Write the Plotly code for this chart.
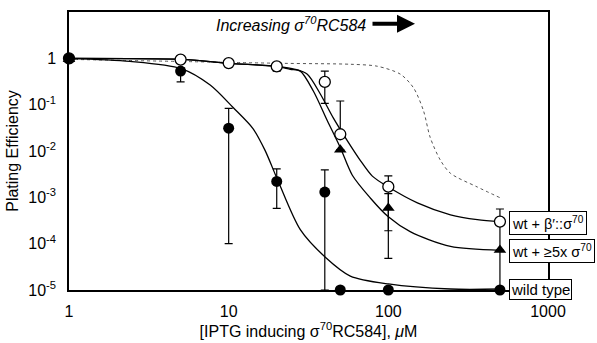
import plotly.graph_objects as go

# ---- data ----
iptg = [1, 5, 10, 20, 40, 50, 100, 500]

wt_y = [1.0, 0.53, 0.031, 0.0022, 0.0013, 1e-5, 1e-5, 1e-5]
wt_hi = [1.0, 0.62, 0.083, 0.0041, 0.0039, 1e-5, 1e-5, 7.0e-5]
wt_lo = [1.0, 0.31, 1e-4, 0.00058, 1e-5, 1e-5, 1e-5, 5.5e-6]

bs_y = [1.0, 0.94, 0.79, 0.67, 0.31, 0.023, 0.0017, 3.0e-4]
bs_hi = [1.0, 0.94, 0.79, 0.67, 0.53, 0.12, 0.0029, 5.6e-4]
bs_lo = [1.0, 0.94, 0.79, 0.53, 0.107, 0.023, 0.00019, 3.0e-4]

tr_x = [1, 50, 100, 500]
tr_y = [0.96, 0.0107, 0.00059, 7.3e-5]
tr_hi = [0.96, 0.0107, 0.0012, 3.0e-4]
tr_lo = [0.96, 0.0107, 4.8e-5, 7.3e-5]

# fitted curves
fit_bs_x = [1, 5.04, 10.1, 20.1, 26.1, 31.1, 37.5, 45.2, 55.3, 66.7, 79.4, 100, 152, 245, 361, 504]
fit_bs_y = [1.0, 0.95, 0.78, 0.67, 0.58, 0.455, 0.17, 0.052, 0.0168, 0.0063, 0.00287, 0.00167,
            7.6e-4, 4.2e-4, 3.3e-4, 3.0e-4]

fit_tr_x = [1, 5.04, 10.1, 20.1, 24.3, 28.1, 33.9, 41.5, 50.0, 59.5, 77.1, 100, 137, 245, 504]
fit_tr_y = [1.0, 0.95, 0.78, 0.67, 0.58, 0.53, 0.197, 0.045, 0.0119, 0.0030, 9.7e-4, 3.8e-4,
            1.82e-4, 8.7e-5, 7.2e-5]

fit_wt_x = [1, 2.41, 5.04, 7.66, 10.7, 14.2, 16.9, 20.4, 28.1, 40.3, 57.8, 100, 245, 504]
fit_wt_y = [1.0, 0.86, 0.6, 0.265, 0.0855, 0.0304, 0.0103, 0.00224, 2.0e-4, 5.1e-5, 2.0e-5,
            1.35e-5, 1.05e-5, 1.05e-5]

dot_x = [1, 22, 57.8, 85.3, 119, 144, 166, 183, 212, 245, 361, 504]
dot_y = [0.95, 0.78, 0.745, 0.675, 0.455, 0.229, 0.074, 0.0195, 0.0063, 0.0033, 0.00167, 9.7e-4]

y_tickvals = [1e-5, 1e-4, 1e-3, 1e-2, 1e-1, 1]
y_ticktext = ["10<sup>-5</sup>", "10<sup>-4</sup>", "10<sup>-3</sup>", "10<sup>-2</sup>",
              "10<sup>-1</sup>", "1"]
x_tickvals = [1, 10, 100, 1000]
x_ticktext = ["1", "10", "100", "1000"]

FONT = "Liberation Sans, Arial, sans-serif"
SIG = "σ"

def err(y, hi, lo):
    return dict(type="data", symmetric=False,
                array=[h - v for h, v in zip(hi, y)],
                arrayminus=[v - l for v, l in zip(y, lo)],
                color="black", thickness=1.2, width=4)

fig = go.Figure()

# curves
fig.add_trace(go.Scatter(x=dot_x, y=dot_y, mode="lines",
                         line=dict(color="#555", width=1, dash="dot", shape="spline", smoothing=0.8),
                         hoverinfo="skip"))
for cx, cy in [(fit_bs_x, fit_bs_y), (fit_tr_x, fit_tr_y), (fit_wt_x, fit_wt_y)]:
    fig.add_trace(go.Scatter(x=cx, y=cy, mode="lines",
                             line=dict(color="black", width=1.3, shape="spline", smoothing=0.8),
                             hoverinfo="skip"))

# points
fig.add_trace(go.Scatter(x=tr_x, y=tr_y, mode="markers", cliponaxis=False,
                         marker=dict(symbol="triangle-up", size=11, color="black"),
                         error_y=err(tr_y, tr_hi, tr_lo)))
fig.add_trace(go.Scatter(x=iptg, y=bs_y, mode="markers", cliponaxis=False,
                         marker=dict(symbol="circle", size=11, color="white",
                                     line=dict(color="black", width=1.3)),
                         error_y=err(bs_y, bs_hi, bs_lo)))
fig.add_trace(go.Scatter(x=iptg, y=wt_y, mode="markers", cliponaxis=False,
                         marker=dict(symbol="circle", size=11, color="black"),
                         error_y=err(wt_y, wt_hi, wt_lo)))

def px_x(p):
    return (p - 69) / 479.0

def px_y(p):
    return (291 - p) / 281.0

LBL = 14.5
annotations = [
    dict(text="<i>Increasing " + SIG + "<sup>70</sup>RC584</i>", x=px_x(368), y=px_y(22),
         xref="paper", yref="paper", xanchor="right", yanchor="middle", showarrow=False,
         font=dict(size=16, family=FONT, color="black")),
    dict(text="", x=px_x(415), y=px_y(22), ax=px_x(371), ay=px_y(22),
         xref="x domain", yref="y domain", axref="x domain", ayref="y domain",
         showarrow=True, arrowhead=2, arrowwidth=4, arrowsize=0.9, arrowcolor="black"),
    dict(text="wt + β′::" + SIG + "<sup>70</sup>", x=px_x(509), y=px_y(223.5),
         xref="paper", yref="paper", xanchor="left", yanchor="middle", showarrow=False,
         bgcolor="white", bordercolor="black", borderwidth=1, borderpad=2,
         font=dict(size=LBL, family=FONT, color="black")),
    dict(text="wt + ≥5x " + SIG + "<sup>70</sup>", x=px_x(509), y=px_y(252),
         xref="paper", yref="paper", xanchor="left", yanchor="middle", showarrow=False,
         bgcolor="white", bordercolor="black", borderwidth=1, borderpad=2,
         font=dict(size=LBL, family=FONT, color="black")),
    dict(text="wild type", x=px_x(509), y=px_y(290),
         xref="paper", yref="paper", xanchor="left", yanchor="middle", showarrow=False,
         bgcolor="white", bordercolor="black", borderwidth=1, borderpad=1,
         font=dict(size=15, family=FONT, color="black")),
]

fig.update_layout(
    width=597, height=343,
    margin=dict(l=69, r=49, t=10, b=52),
    paper_bgcolor="white", plot_bgcolor="white",
    showlegend=False,
    font=dict(family=FONT, size=16, color="black"),
    annotations=annotations,
    xaxis=dict(type="log", range=[0, 3], tickvals=x_tickvals, ticktext=x_ticktext,
               showgrid=False, zeroline=False, showline=True, linecolor="black", linewidth=1.5,
               mirror=True, ticks="", ticklabelstandoff=6,
               title=dict(text="[IPTG inducing " + SIG + "<sup>70</sup>RC584], <i>μ</i>M",
                          standoff=2, font=dict(size=16))),
    yaxis=dict(type="log", range=[-5, 1], tickvals=y_tickvals, ticktext=y_ticktext,
               showgrid=False, zeroline=False, showline=True, linecolor="black", linewidth=1.5,
               mirror=True, ticks="", ticklabelstandoff=8,
               title=dict(text="Plating Efficiency", standoff=6, font=dict(size=16))),
)

fig.write_html("out.html", config={"displayModeBar": False},
               post_script="document.body.style.margin='0';")
